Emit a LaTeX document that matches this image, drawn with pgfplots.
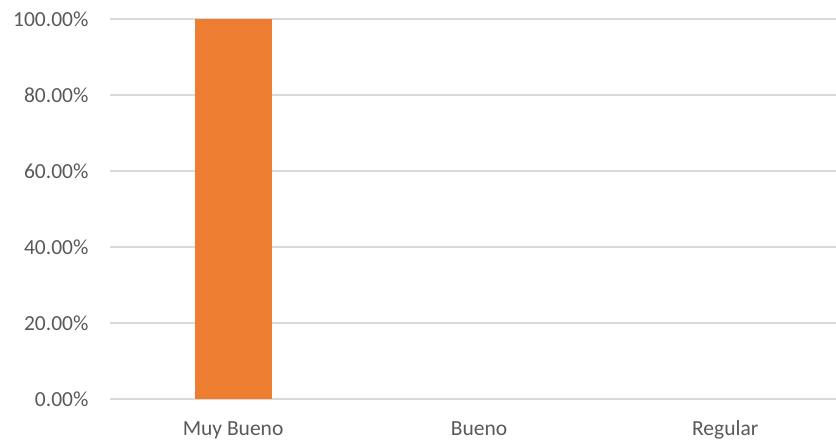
\documentclass[border=0pt]{standalone}
\usepackage{pgfplots}
\pgfplotsset{compat=1.18}
\usepackage{fontspec}
\setmainfont{Carlito}
\definecolor{barorange}{HTML}{ED7D31}
\definecolor{txtgray}{HTML}{595959}
\definecolor{gridgray}{HTML}{D9D9D9}
\begin{document}
\begin{tikzpicture}
\begin{axis}[
  at={(110pt,44pt)}, anchor=south west,
  scale only axis,
  width=726pt, height=380pt,
  xmin=-0.5, xmax=2.45,
  ymin=0, ymax=100,
  ytick={0,20,40,60,80,100},
  yticklabel={\pgfmathprintnumber[fixed,fixed zerofill,precision=2]{\tick}\%},
  xtick={0,1,2},
  xticklabels={Muy Bueno,Bueno,Regular},
  major tick length=0pt,
  ymajorgrids,
  grid style={gridgray, line width=1.5pt},
  axis line style={draw=none},
  axis x line*=bottom,
  axis y line*=left,
  ybar, bar width=77pt,
  ticklabel style={font=\fontsize{21.5}{25}\selectfont, text=txtgray},
  yticklabel style={/pgf/number format/assume math mode=true, xshift=-18pt},
  xticklabel style={yshift=-18pt, text height=15pt, text depth=5pt},
  clip=false,
]
\addplot[fill=barorange, draw=none, restrict y to domain=0.5:200] coordinates {(0,100) (1,0) (2,0)};
\end{axis}
\pgfresetboundingbox
\path (0,0) rectangle (836pt,443pt);
\end{tikzpicture}
\end{document}
